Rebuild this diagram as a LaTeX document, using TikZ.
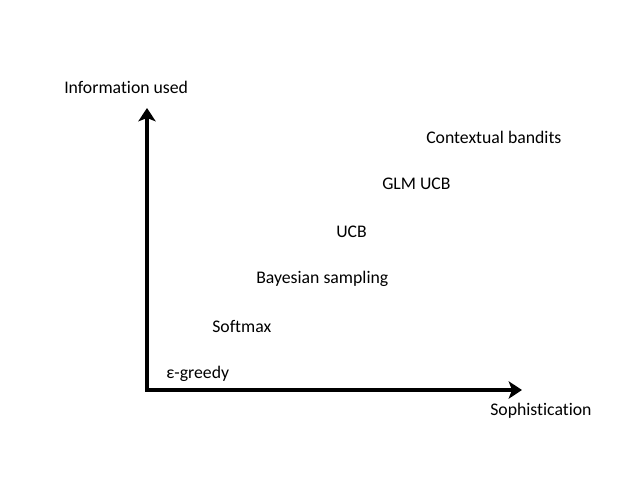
\documentclass[tikz,border=0pt]{standalone}
\usepackage{fontspec}
\setmainfont[Ligatures={NoCommon}]{Carlito}
\usetikzlibrary{arrows.meta}
\definecolor{ink}{HTML}{000000}

\begin{document}
\begin{tikzpicture}[x=0.75pt,y=-0.75pt,
    lbl/.style={anchor=west,inner sep=0pt,font=\fontsize{13.3}{16}\selectfont,text=ink},
    axis/.style={draw=ink,line width=3pt,{Stealth[length=10pt,width=13pt,inset=2.5pt]}-{Stealth[length=10pt,width=13pt,inset=2.5pt]}}]
    \path[use as bounding box] (0,0) rectangle (638,479);
    \coordinate (ytip) at (147,108);
    \coordinate (xtip) at (522,390);
    \draw[axis] (ytip) |- (xtip);
    \node[lbl] (yname) at (64,87) {Information used};
    \node[lbl] (xname) at (490,411) {Sophistication};
    \foreach \x/\y/\name/\txt in {166/374/egreedy/ε-greedy,212/326/softmax/Softmax,
      256/279/bayes/Bayesian sampling,336/232/ucb/UCB,382/184/glmucb/GLM UCB,426/137/context/Contextual bandits} {
      \node[lbl] (\name) at (\x,\y) {\txt};
    }
  \end{tikzpicture}
\end{document}
